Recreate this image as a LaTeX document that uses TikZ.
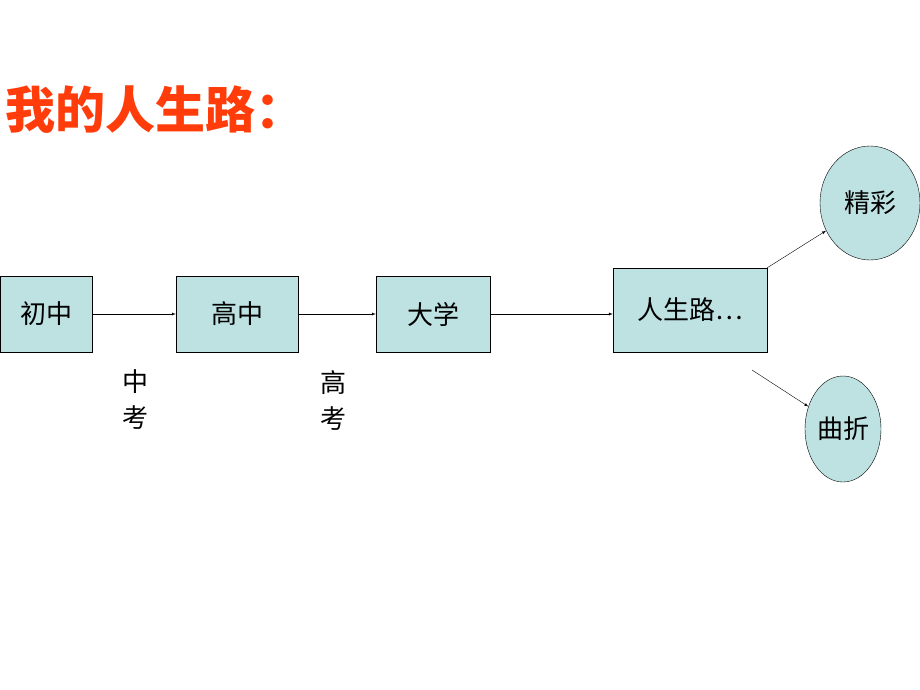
\documentclass[tikz,border=0pt]{standalone}
\usepackage{fontspec}
\setmainfont{Liberation Sans}
\newfontfamily\cjk{Noto Sans CJK SC}
\usetikzlibrary{positioning,shapes.geometric}
\definecolor{boxfill}{RGB}{190,226,226}
\definecolor{titlered}{RGB}{255,60,10}
\tikzset{stage/.style={draw,fill=boxfill,minimum height=76pt,font=\cjk\fontsize{26}{28}\selectfont,inner sep=0pt},
         fate/.style={draw,ellipse,fill=boxfill,font=\cjk\fontsize{26}{28}\selectfont,inner sep=0pt},
         exam/.style={font=\cjk\fontsize{26}{36}\selectfont,align=center},
         flow/.style={-latex}}
\begin{document}
\begin{tikzpicture}[x=1pt,y=-1pt]
  \useasboundingbox (0,0) rectangle (920,690);
  \node[anchor=west,text=titlered,font=\cjk\bfseries\fontsize{50}{52}\selectfont] (title) at (2,110) {我的人生路：};
  \node[stage,minimum width=92pt] (cz) at (46,314) {初中};
  \node[stage,minimum width=122pt] (gz) at (237,314) {高中};
  \node[stage,minimum width=114pt] (dx) at (433,314) {大学};
  \node[stage,minimum width=154pt,minimum height=84pt] (rs) at (690,310) {人生路…};
  \node[fate,minimum width=100pt,minimum height=114pt] (jc) at (870,203) {精彩};
  \node[fate,minimum width=76pt,minimum height=106pt] (qz) at (843,429) {曲折};
  \node[exam] (zk) at (135,400) {中\\考};
  \node[exam] (gk) at (333,400) {高\\考};
  \coordinate (fork) at (752,370);
  \draw[flow] (cz) -- (gz);
  \draw[flow] (gz) -- (dx);
  \draw[flow] (dx) -- (rs.west |- dx);
  \draw[flow] (rs.north east) -- (jc);
  \draw[flow] (fork) -- (qz);
\end{tikzpicture}
\end{document}
